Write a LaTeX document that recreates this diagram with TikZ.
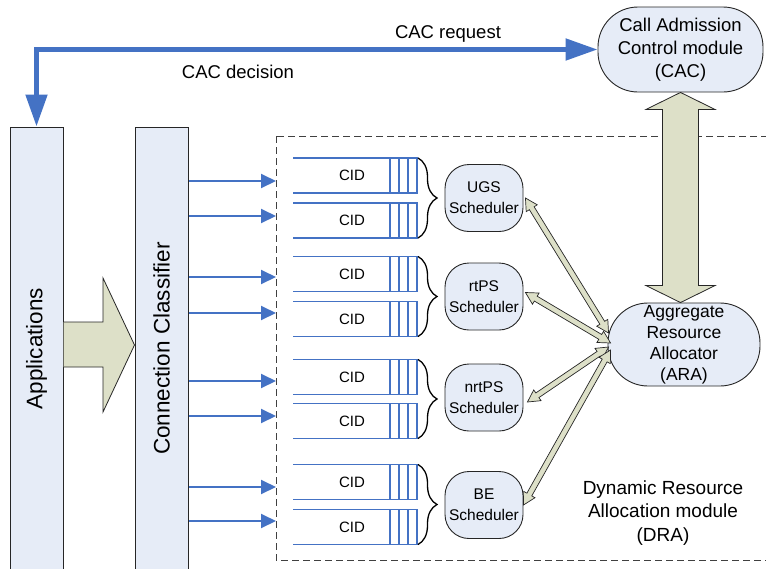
\documentclass[tikz,border=0pt]{standalone}
\usepackage{fontspec}
\setmainfont{Liberation Sans}
\usetikzlibrary{arrows.meta,calc,decorations.pathreplacing}
\definecolor{arrblue}{RGB}{68,114,196}
\definecolor{boxfill}{RGB}{230,236,247}
\definecolor{beige}{RGB}{221,224,200}
% block double arrow: #1 A, #2 B, #3 half shaft, #4 half head, #5 head length, #6 style
\newcommand\dblarrow[6]{%
  \coordinate (da1) at ($(#1)!#5!(#2)$);
  \coordinate (da2) at ($(#2)!#5!(#1)$);
  \draw[#6] (#1) -- ($(da1)!#4!90:(#2)$) -- ($(da1)!#3!90:(#2)$)
    -- ($(da2)!#3!-90:(#1)$) -- ($(da2)!#4!-90:(#1)$) -- (#2)
    -- ($(da2)!#4!90:(#1)$) -- ($(da2)!#3!90:(#1)$)
    -- ($(da1)!#3!-90:(#2)$) -- ($(da1)!#4!-90:(#2)$) -- cycle;}
\begin{document}
\begin{tikzpicture}[x=1pt,y=-1pt,
  bar/.style={draw=black!85, line width=1pt, fill=boxfill, rotate=90,
    minimum width=443pt, minimum height=53pt, inner sep=0pt,
    font=\fontsize{22.5}{27}\selectfont},
  module/.style={draw=black!85, line width=0.9pt, fill=boxfill, align=center, inner sep=0pt},
  sched/.style={module, minimum width=78pt, minimum height=67pt, rounded corners=24pt,
    font=\fontsize{15.5}{21}\selectfont},
  cacbox/.style={module, minimum width=165pt, minimum height=85pt, rounded corners=40pt,
    font=\fontsize{18.5}{23}\selectfont},
  arabox/.style={module, minimum width=152pt, minimum height=83pt, rounded corners=40pt,
    font=\fontsize{17.5}{21}\selectfont},
  lbl/.style={font=\fontsize{18.5}{23}\selectfont, inner sep=0pt},
  cidlbl/.style={font=\fontsize{15}{18}\selectfont, inner sep=0pt},
  qline/.style={arrblue, line width=1.6pt},
  blarr/.style={arrblue, line width=2pt, -{Triangle[length=15pt,width=14pt]}},
  toparr/.style={arrblue, line width=5pt, {Triangle[length=32pt,width=21pt]}-{Triangle[length=32pt,width=21pt]}},
  blockarr/.style={draw=black!85, line width=0.8pt, fill=beige, line join=miter},
  thinarr/.style={draw=black!85, line width=0.7pt, fill=beige, line join=miter},
  bracestyle/.style={draw=black, line width=1.3pt, decorate,
    decoration={brace, amplitude=19pt}},
  dashbox/.style={draw=black!75, line width=1pt, dash pattern=on 7pt off 4pt}
]
\useasboundingbox (0,0) rectangle (766,568);

% dashed DRA frame
\draw[dashbox] (276,136) rectangle (780,560);
\node[font=\fontsize{19}{23.5}\selectfont, align=center, inner sep=0pt] (dralbl) at (663,513)
  {Dynamic Resource\\Allocation module\\(DRA)};

% vertical bars
\node[bar] (app) at (36.5,348.5) {Applications};
\node[bar] (cc) at (161.5,348.5) {Connection Classifier};

% modules
\node[cacbox] (cac) at (680.5,49.5) {Call Admission\\Control module\\(CAC)};
\node[arabox] (ara) at (684,344.5) {Aggregate\\Resource\\Allocator\\(ARA)};

% big arrow Applications -> Connection Classifier
\draw[blockarr] (app.south |- 0,322) -- (103,322) -- (103,278) -- (cc.north |- 0,345)
  -- (103,412) -- (103,367) -- (app.south |- 0,367);

% CAC <-> ARA
\coordinate (araTop) at (cac.south |- ara.north);
\dblarrow{cac.south}{araTop}{18pt}{34.5pt}{17pt}{blockarr}

% top request/decision arrow
\draw[toparr] (app.east) |- (cac.west);
\node[lbl] (req) at (448,34) {CAC request};
\node[lbl] (dec) at (238,72) {CAC decision};

% queues
\foreach \c/\n in {175.5/1,220.5/2,274/3,319/4,377/5,421/6,482/7,527/8}{
  \draw[qline] (293,\c-17.5) -- (418,\c-17.5) (293,\c+17.5) -- (418,\c+17.5);
  \foreach \vx in {390,399,408,417}{
    \draw[qline] (\vx,\c-17.5) -- (\vx,\c+17.5);
  }
  \node[cidlbl] (cid\n) at (352,\c) {CID};
}

% braces
\foreach \t/\b in {158/238,256.5/336.5,359.5/438.5,464.5/544.5}{
  \draw[bracestyle] (418,\t) -- (418,\b);
}

% classifier -> queue arrows
\foreach \y in {181,216,277,313,381,416,487,521}{
  \draw[blarr] (cc.south |- 0,\y) -- (276,\y);
}

% schedulers
\node[sched] (ugs) at (484,198) {UGS\\Scheduler};
\node[sched] (rtps) at (484,296.5) {rtPS\\Scheduler};
\node[sched] (nrtps) at (484,397.5) {nrtPS\\Scheduler};
\node[sched] (be) at (484,505) {BE\\Scheduler};

% scheduler <-> ARA arrows
\coordinate (s1) at ($(ugs.east)+(2,0)$);
\coordinate (a1) at ($(ara.west)+(1,-11.5)$);
\coordinate (s2) at ($(rtps.east)+(2,-4)$);
\coordinate (a2) at ($(ara.west)+(3,-1.5)$);
\coordinate (s3) at ($(nrtps.east)+(4,4.5)$);
\coordinate (a3) at ($(ara.west)+(1,2.5)$);
\coordinate (s4) at ($(be.east)+(0,0)$);
\coordinate (a4) at ($(ara.west)+(3,5.5)$);
\dblarrow{s1}{a1}{2.8pt}{6.5pt}{12pt}{thinarr}
\dblarrow{s2}{a2}{2.8pt}{6.5pt}{12pt}{thinarr}
\dblarrow{s3}{a3}{2.8pt}{6.5pt}{12pt}{thinarr}
\dblarrow{s4}{a4}{2.8pt}{6.5pt}{12pt}{thinarr}
\end{tikzpicture}
\end{document}
